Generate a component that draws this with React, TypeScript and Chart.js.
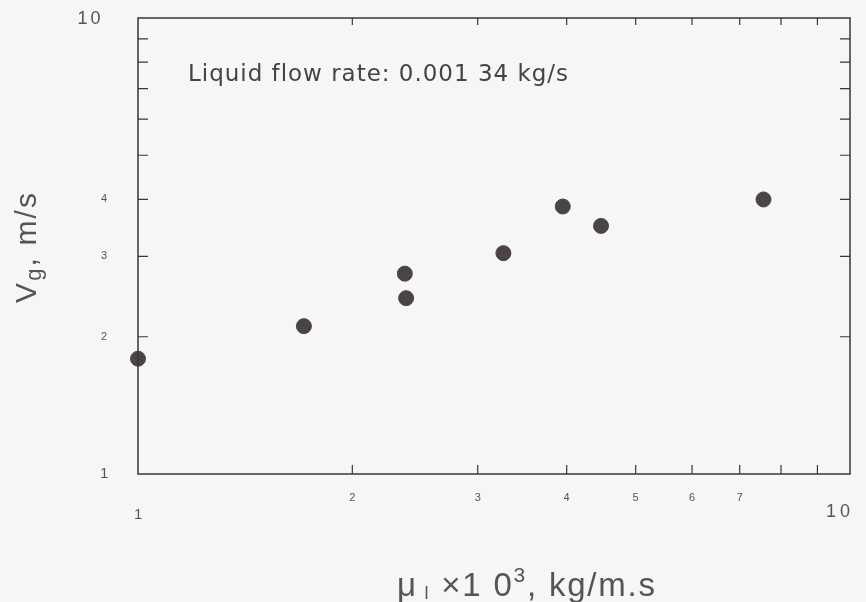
import React, { useEffect, useRef } from "react";
import { Chart, registerables } from "chart.js";

Chart.register(...registerables);

// Data (viscosity ×10^3 kg/m.s vs gas velocity m/s)
const viscosity = [1.0, 1.71, 2.37, 2.38, 3.26, 3.95, 4.47, 7.56];
const gasVelocity = [1.79, 2.11, 2.75, 2.43, 3.05, 3.86, 3.5, 4.0];

const xMinorTicks = [2, 3, 4, 5, 6, 7, 8, 9];
const yMinorTicks = [2, 3, 4, 5, 6, 7, 8, 9];
const xSmallLabels = [2, 3, 4, 5, 6, 7];
const xBigLabels = [1, 10];
const ySmallLabels = [2, 3, 4];
const yBigLabels = [1, 10];
const annotationText = "Liquid flow rate: 0.001 34 kg/s";

const INK = "#3a3638";
const FONT = "'Liberation Sans', 'DejaVu Sans', sans-serif";
const FONT2 = "'DejaVu Sans', 'Liberation Sans', sans-serif";

type Part = [string, number, number];

// draws a sequence of text parts, spread with letter spacing so its width equals target, centered on cx
function drawParts(ctx: any, parts: Part[], cx: number, cy: number, target: number, family: string) {
  let natural = 0;
  let n = 0;
  parts.forEach(([t, s]) => {
    ctx.letterSpacing = "0px";
    ctx.font = `${s}px ${family}`;
    natural += ctx.measureText(t).width;
    n += t.length;
  });
  const ls = Math.max(-2, (target - natural) / Math.max(1, n - 1));
  let x = cx - target / 2;
  ctx.textAlign = "left";
  ctx.textBaseline = "middle";
  parts.forEach(([t, s, dy]) => {
    ctx.font = `${s}px ${family}`;
    ctx.letterSpacing = `${ls}px`;
    ctx.fillText(t, x, cy + dy);
    ctx.letterSpacing = "0px";
    x += ctx.measureText(t).width + ls * t.length;
  });
  ctx.letterSpacing = "0px";
}

const framePlugin = {
  id: "framePlugin",
  afterDraw(chart: any) {
    const ctx = chart.ctx as any;
    const { left, right, top, bottom } = chart.chartArea;
    const xs = chart.scales.x;
    const ys = chart.scales.y;
    ctx.save();
    ctx.strokeStyle = INK;
    ctx.lineWidth = 1.5;
    ctx.strokeRect(left, top, right - left, bottom - top);

    ctx.lineWidth = 1.2;
    ctx.beginPath();
    xMinorTicks.forEach((v) => {
      const px = xs.getPixelForValue(v);
      ctx.moveTo(px, bottom);
      ctx.lineTo(px, bottom - 9);
      ctx.moveTo(px, top);
      ctx.lineTo(px, top + 7);
    });
    yMinorTicks.forEach((v) => {
      const py = ys.getPixelForValue(v);
      ctx.moveTo(left, py);
      ctx.lineTo(left + 10, py);
      ctx.moveTo(right, py);
      ctx.lineTo(right - 10, py);
    });
    ctx.stroke();

    ctx.fillStyle = "#555";
    ctx.textAlign = "center";
    ctx.textBaseline = "middle";
    ctx.font = `11px ${FONT}`;
    xSmallLabels.forEach((v) => {
      ctx.fillText(String(v), xs.getPixelForValue(v), bottom + 24);
    });
    xBigLabels.forEach((v) => {
      const px = xs.getPixelForValue(v);
      if (v === 10) drawParts(ctx, [[String(v), 18, 0]], px - 12, bottom + 38, 24, FONT);
      else drawParts(ctx, [[String(v), 15, 0]], px, bottom + 41, 8, FONT);
    });

    ctx.textAlign = "right";
    ctx.textBaseline = "middle";
    ctx.font = `11px ${FONT}`;
    ySmallLabels.forEach((v) => {
      ctx.fillText(String(v), left - 31, ys.getPixelForValue(v));
    });
    yBigLabels.forEach((v) => {
      const py = ys.getPixelForValue(v);
      if (v === 10) drawParts(ctx, [[String(v), 18, 0]], left - 49, py + 1, 23, FONT);
      else drawParts(ctx, [[String(v), 15, 0]], left - 34, py, 8, FONT);
    });

    // annotation
    ctx.fillStyle = "#444";
    drawParts(ctx, [[annotationText, 23, 0]], 188 + 190, top + 57, 380, FONT2);

    // y title: V_g, m/s
    ctx.save();
    ctx.translate(28, 248);
    ctx.rotate(-Math.PI / 2);
    ctx.fillStyle = "#555";
    drawParts(
      ctx,
      [
        ["V", 30, 0],
        ["g", 22, 7],
        [", m/s", 30, 0],
      ],
      0,
      0,
      110,
      FONT
    );
    ctx.restore();

    // x title: μ_l ×10^3, kg/m.s
    ctx.fillStyle = "#555";
    drawParts(
      ctx,
      [
        ["\u03bc", 33, 0],
        [" l", 18, 7],
        [" \u00d71 0", 33, 0],
        ["3", 21, -11],
        [", kg/m.s", 33, 0],
      ],
      526,
      bottom + 113,
      258,
      FONT
    );
    ctx.restore();
  },
};

export default function App() {
  const ref = useRef<HTMLCanvasElement | null>(null);
  useEffect(() => {
    document.body.style.margin = "0";
    document.body.style.background = "#f6f6f6";
    const canvas = ref.current;
    if (!canvas) return;
    const chart = new Chart(canvas, {
      type: "scatter",
      data: {
        datasets: [
          {
            data: viscosity.map((v, i) => ({ x: v, y: gasVelocity[i] })),
            backgroundColor: "#4a4447",
            borderColor: "#4a4447",
            pointRadius: 7.5,
            pointHoverRadius: 7.5,
            clip: false as any,
          },
        ],
      },
      options: {
        animation: false,
        responsive: false,
        maintainAspectRatio: false,
        layout: { padding: { left: 138, right: 16, top: 18, bottom: 128 } },
        plugins: { legend: { display: false }, tooltip: { enabled: false } },
        scales: {
          x: { type: "logarithmic", min: 1, max: 10, display: false },
          y: { type: "logarithmic", min: 1, max: 10, display: false },
        },
      },
      plugins: [framePlugin],
    });
    return () => chart.destroy();
  }, []);
  return (
    <div style={{ width: 866, height: 602, background: "#f6f6f6" }}>
      <canvas ref={ref} width={866} height={602} style={{ display: "block" }} />
    </div>
  );
}
